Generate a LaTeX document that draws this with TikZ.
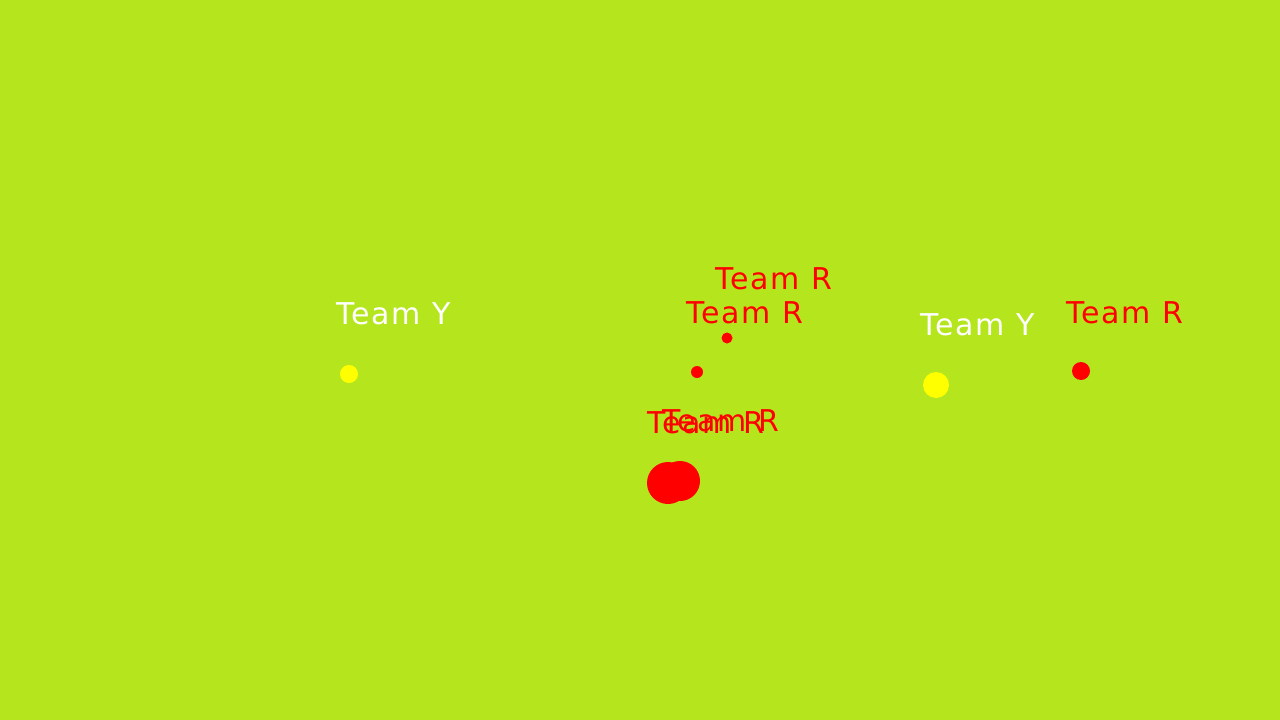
\documentclass[tikz,border=0pt]{standalone}
\usepackage{fontspec}
\setmainfont{DejaVu Sans}
\definecolor{pitchgreen}{HTML}{B5E61D}
\definecolor{teamred}{HTML}{FF0000}
\definecolor{teamyellow}{HTML}{FFFF00}

\begin{document}
\begin{tikzpicture}[
        x=1pt,y=-1pt,
        player/.style={circle,inner sep=0pt,minimum size=#1},
        ydot/.style={player=#1,fill=teamyellow},
        rdot/.style={player=#1,fill=teamred},
        tag/.style={anchor=base west,inner sep=0pt,
          font=\fontsize{30}{30}\selectfont\addfontfeatures{LetterSpace=6}},
        ytag/.style={tag,text=white},
        rtag/.style={tag,text=teamred}
      ]
        \fill[pitchgreen] (0,0) rectangle (1280,720);

        \node[ydot=18pt] (yleft) at (349,374) {};
        \node[ytag] (yleftlabel) at (336,324) {Team Y};

        \node[rdot=11pt] (rtop) at (727,338) {};
        \node[rtag] (rtoplabel) at (715,289) {Team R};
        \node[rdot=12pt] (rmid) at (697,372) {};
        \node[rtag] (rmidlabel) at (686,323) {Team R};

        \node[ydot=26pt] (yright) at (936,385) {};
        \node[ytag] (yrightlabel) at (920,335) {Team Y};
        \node[rdot=18pt] (rright) at (1081,371) {};
        \node[rtag] (rrightlabel) at (1066,323) {Team R};

        \node[rdot=42pt] (rclumpa) at (668,483) {};
        \node[rtag] (rclumpalabel) at (647,433) {Team R};
        \node[rdot=40pt] (rclumpb) at (680,481) {};
        \node[rtag] (rclumpblabel) at (662,431) {Team R};
      \end{tikzpicture}
\end{document}
